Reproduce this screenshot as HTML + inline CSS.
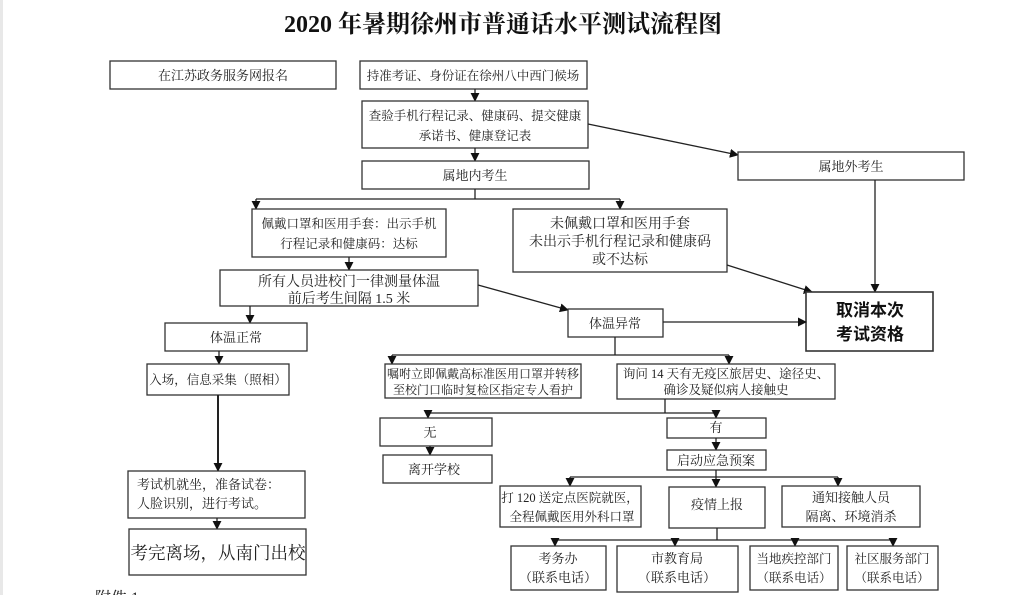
<!DOCTYPE html>
<html><head><meta charset="utf-8"><style>
html,body{margin:0;padding:0;background:#fff;}
svg{display:block;}
text{font-family:"Liberation Serif","Noto Serif CJK SC","Noto Sans CJK SC",serif;font-size:13px;fill:#222;text-anchor:middle;}
rect{fill:#fff;stroke:#333;stroke-width:1.3;}
line,polyline{stroke:#222;stroke-width:1.3;fill:none;}
</style></head><body>
<svg width="1013" height="595" viewBox="0 0 1013 595" xmlns="http://www.w3.org/2000/svg">
<defs><marker id="a" viewBox="0 0 10 10" refX="9" refY="5" markerUnits="userSpaceOnUse" markerWidth="9" markerHeight="9" orient="auto"><path d="M0,0 L10,5 L0,10z" fill="#111"/></marker></defs>
<rect x="0" y="0" width="3" height="595" style="fill:#e8e8e8;stroke:none"/>
<text x="503" y="32" style="font-size:24px;font-weight:bold;fill:#111">2020 年暑期徐州市普通话水平测试流程图</text>

<rect x="110" y="61" width="226" height="28"/><text x="223" y="80">在江苏政务服务网报名</text>
<rect x="360" y="61" width="227" height="28"/><text x="473" y="80" style="font-size:12.5px">持准考证、身份证在徐州八中西门候场</text>
<line x1="475" y1="89" x2="475" y2="101" marker-end="url(#a)"/>
<rect x="362" y="101" width="226" height="47"/><text x="475" y="120" style="font-size:12.5px">查验手机行程记录、健康码、提交健康</text><text x="475" y="140" style="font-size:12.5px">承诺书、健康登记表</text>
<line x1="475" y1="148" x2="475" y2="161" marker-end="url(#a)"/>
<rect x="362" y="161" width="227" height="28"/><text x="475" y="180">属地内考生</text>
<line x1="475" y1="189" x2="475" y2="199"/>
<line x1="256" y1="199" x2="620" y2="199"/>
<line x1="256" y1="199" x2="256" y2="209" marker-end="url(#a)"/>
<line x1="620" y1="199" x2="620" y2="209" marker-end="url(#a)"/>
<line x1="588" y1="124" x2="738" y2="155" marker-end="url(#a)"/>

<rect x="252" y="209" width="194" height="48"/><text x="349" y="228" style="font-size:12.5px">佩戴口罩和医用手套：出示手机</text><text x="349" y="248" style="font-size:12.5px">行程记录和健康码：达标</text>
<rect x="513" y="209" width="214" height="63"/><text x="620" y="228" style="font-size:14px">未佩戴口罩和医用手套</text><text x="620" y="246" style="font-size:14px">未出示手机行程记录和健康码</text><text x="620" y="264" style="font-size:14px">或不达标</text>
<line x1="349" y1="257" x2="349" y2="270" marker-end="url(#a)"/>
<rect x="220" y="270" width="258" height="36"/><text x="349" y="286" style="font-size:14px">所有人员进校门一律测量体温</text><text x="349" y="303" style="font-size:14px">前后考生间隔 1.5 米</text>

<rect x="738" y="152" width="226" height="28"/><text x="851" y="171">属地外考生</text>
<line x1="875" y1="180" x2="875" y2="292" marker-end="url(#a)"/>
<line x1="727" y1="265" x2="812" y2="292" marker-end="url(#a)"/>
<rect x="806" y="292" width="127" height="59" style="stroke-width:1.6"/>
<text x="870" y="316" style="font-size:17px;font-weight:bold;font-family:'Liberation Sans','Noto Sans CJK SC',sans-serif;fill:#111">取消本次</text>
<text x="870" y="340" style="font-size:17px;font-weight:bold;font-family:'Liberation Sans','Noto Sans CJK SC',sans-serif;fill:#111">考试资格</text>

<line x1="478" y1="285" x2="568" y2="310" marker-end="url(#a)"/>
<rect x="568" y="309" width="95" height="28"/><text x="615" y="328">体温异常</text>
<line x1="663" y1="322" x2="806" y2="322" marker-end="url(#a)"/>

<line x1="250" y1="306" x2="250" y2="323" marker-end="url(#a)"/>
<rect x="165" y="323" width="142" height="28"/><text x="236" y="342">体温正常</text>
<line x1="219" y1="351" x2="219" y2="364" marker-end="url(#a)"/>
<rect x="147" y="364" width="142" height="31"/><text x="218" y="384" style="font-size:12.5px">入场，信息采集（照相）</text>
<line x1="218" y1="395" x2="218" y2="471" marker-end="url(#a)" style="stroke-width:2"/>
<rect x="128" y="471" width="177" height="47"/><text x="137" y="489" style="text-anchor:start">考试机就坐，准备试卷：</text><text x="137" y="508" style="text-anchor:start">人脸识别，进行考试。</text>
<line x1="217" y1="518" x2="217" y2="529" marker-end="url(#a)"/>
<rect x="129" y="529" width="177" height="46"/><text x="218" y="559" style="font-size:17.5px">考完离场，从南门出校</text>
<text x="95" y="603" style="font-size:16px;text-anchor:start">附件 1</text>

<line x1="615" y1="337" x2="615" y2="355"/>
<line x1="392" y1="355" x2="729" y2="355"/>
<line x1="392" y1="355" x2="392" y2="364" marker-end="url(#a)"/>
<line x1="729" y1="355" x2="729" y2="364" marker-end="url(#a)"/>
<rect x="385" y="364" width="196" height="34"/><text x="483" y="378" style="font-size:12px">嘱咐立即佩戴高标准医用口罩并转移</text><text x="483" y="394" style="font-size:12px">至校门口临时复检区指定专人看护</text>
<rect x="617" y="364" width="218" height="35"/><text x="726" y="378" style="font-size:12.5px">询问 14 天有无疫区旅居史、途径史、</text><text x="726" y="394" style="font-size:12.5px">确诊及疑似病人接触史</text>

<line x1="665" y1="399" x2="665" y2="413"/>
<line x1="428" y1="413" x2="716" y2="413"/>
<line x1="428" y1="413" x2="428" y2="418" marker-end="url(#a)"/>
<line x1="716" y1="413" x2="716" y2="418" marker-end="url(#a)"/>
<rect x="380" y="418" width="112" height="28"/><text x="430" y="437">无</text>
<line x1="430" y1="446" x2="430" y2="455" marker-end="url(#a)"/>
<rect x="383" y="455" width="109" height="28"/><text x="434" y="474">离开学校</text>
<rect x="667" y="418" width="99" height="20"/><text x="716" y="432">有</text>
<line x1="716" y1="438" x2="716" y2="450" marker-end="url(#a)"/>
<rect x="667" y="450" width="99" height="20"/><text x="716" y="465">启动应急预案</text>

<line x1="716" y1="470" x2="716" y2="477"/>
<line x1="570" y1="477" x2="838" y2="477"/>
<line x1="570" y1="477" x2="570" y2="486" marker-end="url(#a)"/>
<line x1="716" y1="477" x2="716" y2="487" marker-end="url(#a)"/>
<line x1="838" y1="477" x2="838" y2="486" marker-end="url(#a)"/>
<rect x="500" y="486" width="141" height="41"/><text x="570" y="502" style="font-size:12.5px">打 120 送定点医院就医，</text><text x="572" y="521" style="font-size:12.5px">全程佩戴医用外科口罩</text>
<rect x="669" y="487" width="96" height="41"/><text x="717" y="509">疫情上报</text>
<rect x="782" y="486" width="138" height="41"/><text x="851" y="502">通知接触人员</text><text x="851" y="521">隔离、环境消杀</text>

<line x1="717" y1="528" x2="717" y2="540"/>
<line x1="555" y1="540" x2="893" y2="540"/>
<line x1="555" y1="540" x2="555" y2="546" marker-end="url(#a)"/>
<line x1="675" y1="540" x2="675" y2="546" marker-end="url(#a)"/>
<line x1="795" y1="540" x2="795" y2="546" marker-end="url(#a)"/>
<line x1="893" y1="540" x2="893" y2="546" marker-end="url(#a)"/>
<rect x="511" y="546" width="95" height="44"/><text x="558" y="563">考务办</text><text x="558" y="582">（联系电话）</text>
<rect x="617" y="546" width="121" height="46"/><text x="677" y="563">市教育局</text><text x="677" y="582">（联系电话）</text>
<rect x="750" y="546" width="88" height="44"/><text x="794" y="563" style="font-size:12.5px">当地疾控部门</text><text x="794" y="582" style="font-size:12.5px">（联系电话）</text>
<rect x="847" y="546" width="91" height="44"/><text x="892" y="563" style="font-size:12.5px">社区服务部门</text><text x="892" y="582" style="font-size:12.5px">（联系电话）</text>
</svg>
</body></html>
